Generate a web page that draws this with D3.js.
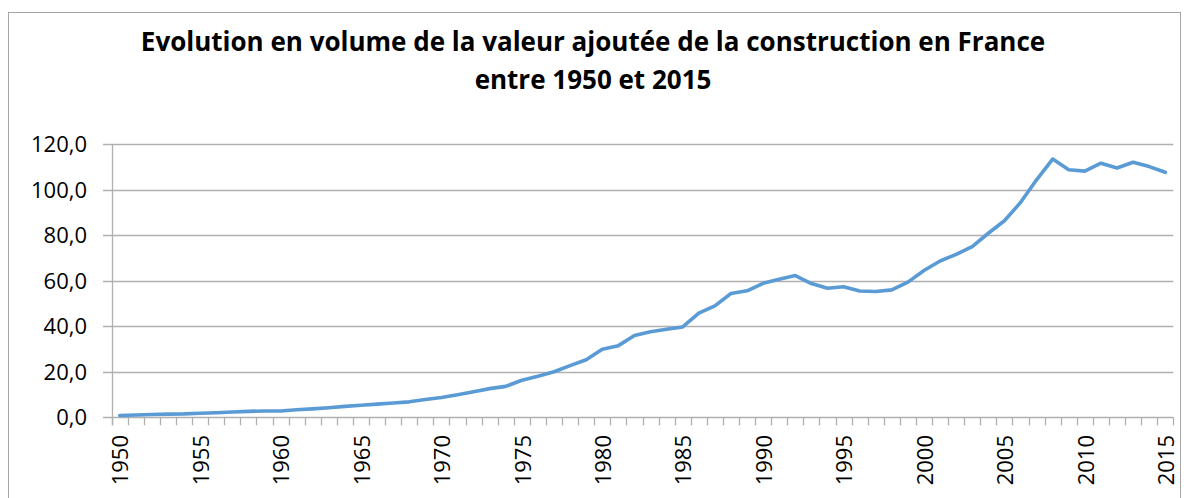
<!DOCTYPE html>
<html>
<head>
<meta charset="utf-8">
<script src="https://cdn.jsdelivr.net/npm/d3@7"></script>
<style>
  html, body { margin: 0; padding: 0; background: #fff; }
  svg { display: block; }
  text { font-family: "Open Sans", "Noto Sans", sans-serif; fill: #000; }
</style>
</head>
<body>
<svg id="chart" width="1189" height="498"></svg>
<script>
const titleLines = ["Evolution en volume de la valeur ajoutée de la construction en France", "entre 1950 et 2015"];
const years = d3.range(1950, 2016);
const values = [
  0.8, 1.0, 1.2, 1.4, 1.5, 1.8, 2.0, 2.3, 2.6, 2.8,
  2.8, 3.3, 3.7, 4.2, 4.8, 5.3, 5.8, 6.3, 6.8, 7.8,
  8.7, 9.9, 11.2, 12.6, 13.6, 16.3, 18.0, 20.0, 22.7, 25.3,
  29.9, 31.5, 36.0, 37.6, 38.7, 39.7, 45.8, 49.0, 54.4, 55.6,
  58.9, 60.7, 62.3, 58.8, 56.7, 57.4, 55.5, 55.3, 56.0, 59.4,
  64.5, 68.7, 71.6, 75.0, 80.9, 86.4, 94.4, 104.4, 113.5, 108.8,
  108.2, 111.7, 109.6, 112.1, 110.2, 107.7
];
const yTicks = [0, 20, 40, 60, 80, 100, 120];
const xLabelYears = years.filter(y => (y - 1950) % 5 === 0);

const svg = d3.select("#chart");
const gridColor = "#b0b0b0";

// outer chart border
svg.append("rect")
  .attr("x", 8.5).attr("y", 12.5)
  .attr("width", 1172).attr("height", 500)
  .attr("fill", "none").attr("stroke", "#a6a6a6").attr("stroke-width", 1);

const plotLeft = 111.7, plotRight = 1173.3, plotTop = 144.3, plotBottom = 417.3;

const x = d3.scaleBand().domain(years).range([plotLeft, plotRight]).paddingInner(0).paddingOuter(0);
const y = d3.scaleLinear().domain([0, 120]).range([plotBottom, plotTop]);

// title
const title = svg.append("text")
  .attr("text-anchor", "middle")
  .attr("font-weight", "bold")
  .attr("font-size", 26);
title.append("tspan").attr("x", 593).attr("y", 51).text(titleLines[0]);
title.append("tspan").attr("x", 593).attr("y", 89).text(titleLines[1]);

// gridlines
svg.append("g")
  .selectAll("line")
  .data(yTicks)
  .join("line")
  .attr("x1", 103).attr("x2", plotRight)
  .attr("y1", d => Math.round(y(d)) + 0.5).attr("y2", d => Math.round(y(d)) + 0.5)
  .attr("stroke", gridColor).attr("stroke-width", 1.3);

// y axis line
svg.append("line")
  .attr("x1", Math.round(plotLeft) + 0.5).attr("x2", Math.round(plotLeft) + 0.5)
  .attr("y1", plotTop).attr("y2", plotBottom + 8)
  .attr("stroke", gridColor).attr("stroke-width", 1.3);

// x tick marks at category boundaries
const boundaries = years.map(yr => x(yr)).concat([plotRight]);
svg.append("g")
  .selectAll("line")
  .data(boundaries)
  .join("line")
  .attr("x1", d => Math.round(d) + 0.5).attr("x2", d => Math.round(d) + 0.5)
  .attr("y1", plotBottom).attr("y2", plotBottom + 8)
  .attr("stroke", gridColor).attr("stroke-width", 1.3);

// y labels
svg.append("g")
  .selectAll("text")
  .data(yTicks)
  .join("text")
  .attr("x", 87)
  .attr("y", d => y(d))
  .attr("dy", "0.35em")
  .attr("text-anchor", "end")
  .attr("font-size", 22)
  .text(d => d3.format(".1f")(d).replace(".", ","));

// x labels
svg.append("g")
  .selectAll("text")
  .data(xLabelYears)
  .join("text")
  .attr("transform", d => `translate(${x(d) + x.bandwidth() / 2 + 1},435) rotate(-90)`)
  .attr("text-anchor", "end")
  .attr("dy", "0.35em")
  .attr("font-size", 22)
  .text(d => d);

// line
const line = d3.line()
  .x((d, i) => x(years[i]) + x.bandwidth() / 2)
  .y(d => y(d));
svg.append("path")
  .datum(values)
  .attr("d", line)
  .attr("fill", "none")
  .attr("stroke", "#5b9bd5")
  .attr("stroke-width", 3.6)
  .attr("stroke-linejoin", "round")
  .attr("stroke-linecap", "round");
</script>
</body>
</html>
